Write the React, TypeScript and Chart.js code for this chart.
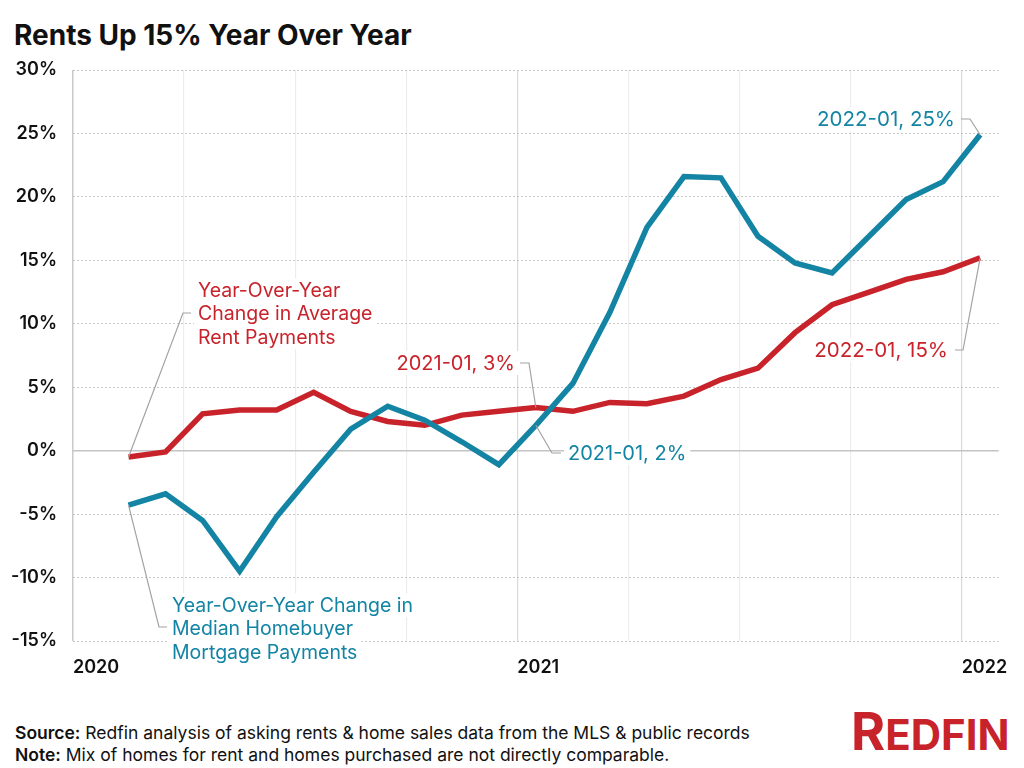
import React, { useEffect, useRef } from 'react';
import { Chart, registerables } from 'chart.js';

Chart.register(...registerables);

// ---------- data ----------
const months = [
  '2020-02', '2020-03', '2020-04', '2020-05', '2020-06', '2020-07', '2020-08', '2020-09',
  '2020-10', '2020-11', '2020-12', '2021-01', '2021-02', '2021-03', '2021-04', '2021-05',
  '2021-06', '2021-07', '2021-08', '2021-09', '2021-10', '2021-11', '2021-12', '2022-01',
];
const rentYoY = [
  -0.5, -0.1, 2.9, 3.2, 3.2, 4.6, 3.1, 2.3,
  2.0, 2.8, 3.1, 3.4, 3.1, 3.8, 3.7, 4.3,
  5.6, 6.5, 9.3, 11.5, 12.5, 13.5, 14.1, 15.2,
];
const mortgageYoY = [
  -4.3, -3.4, -5.5, -9.5, -5.2, -1.7, 1.7, 3.5,
  2.4, 0.7, -1.1, 2.0, 5.3, 10.9, 17.6, 21.6,
  21.5, 16.9, 14.8, 14.0, 16.9, 19.8, 21.2, 24.9,
];
const quarterTicks = ['2020-01', '2020-04', '2020-07', '2020-10', '2021-01', '2021-04', '2021-07', '2021-10', '2022-01'];
const yearLabels = ['2020', '2021', '2022'];
const yTicks = [-15, -10, -5, 0, 5, 10, 15, 20, 25, 30];
const rentLabel = ['Year-Over-Year', 'Change in Average', 'Rent Payments'];
const mortgageLabel = ['Year-Over-Year Change in', 'Median Homebuyer', 'Mortgage Payments'];

// ---------- style ----------
const RED = '#c8232b';
const BLUE = '#1384a3';
const FONT = 'Inter, Lato, "Noto Sans", "DejaVu Sans", sans-serif';
const LEADER = '#a3a3a3';

const monthIndex = (m: string) => {
  const [y, mo] = m.split('-').map(Number);
  return (y - 2020) * 12 + (mo - 1);
};
const pointX = (m: string) => monthIndex(m) + 0.5;

type Note = {
  ds: number;
  idx: number;
  lines: string[];
  color: string;
  x: number;
  y: number;
  align: 'left' | 'right';
  size: number;
  lh: number;
  leader: [number, number][];
};

const fmt = (i: number, vals: number[]) => `${months[i]}, ${Math.round(vals[i])}%`;

const notes: Note[] = [
  { ds: 0, idx: 0, lines: rentLabel, color: RED, x: 198, y: 290, align: 'left', size: 19.5, lh: 23.5, leader: [[183, 313], [191, 313]] },
  { ds: 1, idx: 0, lines: mortgageLabel, color: BLUE, x: 172, y: 605, align: 'left', size: 19.5, lh: 23.5, leader: [[159, 627], [167, 627]] },
  { ds: 0, idx: 11, lines: [fmt(11, rentYoY)], color: RED, x: 515, y: 363, align: 'right', size: 20, lh: 24, leader: [[529, 363], [520, 363]] },
  { ds: 1, idx: 11, lines: [fmt(11, mortgageYoY)], color: BLUE, x: 568, y: 453, align: 'left', size: 20, lh: 24, leader: [[552, 453], [561, 453]] },
  { ds: 1, idx: 23, lines: [fmt(23, mortgageYoY)], color: BLUE, x: 955, y: 119, align: 'right', size: 20.5, lh: 24, leader: [[970, 119], [961, 119]] },
  { ds: 0, idx: 23, lines: [fmt(23, rentYoY)], color: RED, x: 948, y: 350, align: 'right', size: 20.5, lh: 24, leader: [[963, 350], [955, 350]] },
];

const annotationPlugin = {
  id: 'annotations',
  beforeDatasetsDraw(chart: any) {
    const ctx = chart.ctx as CanvasRenderingContext2D;
    ctx.save();
    ctx.fillStyle = '#ffffff';
    notes.forEach((n) => {
      ctx.font = `${n.size}px ${FONT}`;
      n.lines.forEach((line, i) => {
        const w = ctx.measureText(line).width;
        const cy = n.y + i * n.lh;
        const left = n.align === 'left' ? n.x : n.x - w;
        ctx.fillRect(left - 4, cy - n.lh / 2, w + 8, n.lh);
      });
    });
    ctx.restore();
  },
  afterDatasetsDraw(chart: any) {
    const ctx = chart.ctx as CanvasRenderingContext2D;
    ctx.save();
    notes.forEach((n) => {
      const pt = chart.getDatasetMeta(n.ds).data[n.idx];
      ctx.strokeStyle = LEADER;
      ctx.lineWidth = 1.2;
      ctx.beginPath();
      ctx.moveTo(pt.x, pt.y);
      n.leader.forEach(([lx, ly]) => ctx.lineTo(lx, ly));
      ctx.stroke();
      ctx.fillStyle = n.color;
      ctx.font = `${n.size}px ${FONT}`;
      ctx.textAlign = n.align;
      ctx.textBaseline = 'middle';
      n.lines.forEach((line, i) => ctx.fillText(line, n.x, n.y + i * n.lh + 1));
    });
    ctx.restore();
  },
};

export default function App() {
  const ref = useRef<HTMLCanvasElement | null>(null);

  useEffect(() => {
    if (!ref.current) return;
    const chart = new Chart(ref.current, {
      type: 'line',
      data: {
        datasets: [
          {
            label: 'Rent',
            data: months.map((m, i) => ({ x: pointX(m), y: rentYoY[i] })),
            borderColor: RED,
            borderWidth: 5.5,
            pointRadius: 0,
            tension: 0,
            borderJoinStyle: 'miter',
            order: 2,
          },
          {
            label: 'Mortgage',
            data: months.map((m, i) => ({ x: pointX(m), y: mortgageYoY[i] })),
            borderColor: BLUE,
            borderWidth: 5.5,
            pointRadius: 0,
            tension: 0,
            borderJoinStyle: 'miter',
            order: 1,
          },
        ],
      },
      options: {
        responsive: false,
        animation: false,
        layout: { padding: { left: 0, right: 21, top: 70, bottom: 0 } },
        plugins: { legend: { display: false }, tooltip: { enabled: false }, title: { display: false } },
        scales: {
          x: {
            type: 'linear',
            min: 0,
            max: 25,
            afterBuildTicks: (scale: any) => {
              scale.ticks = quarterTicks.map((m) => ({ value: monthIndex(m) }));
            },
            afterFit: (scale: any) => {
              scale.height = 40;
            },
            ticks: {
              align: 'start',
              padding: 16,
              maxRotation: 0,
              autoSkip: false,
              color: '#111111',
              font: { family: FONT, size: 18, weight: '600' },
              callback: (v: any) => (Number(v) % 12 === 0 ? yearLabels[Number(v) / 12] : ''),
            },
            grid: {
              drawTicks: false,
              color: (c: any) => {
                const v = c.tick ? c.tick.value : -1;
                if (v === 0) return '#c9c9c9';
                if (v % 12 === 0) return '#d9d9d9';
                return '#ededed';
              },
              lineWidth: (c: any) => (c.tick && c.tick.value === 0 ? 1.5 : 1.2),
            },
            border: { display: false },
          },
          y: {
            min: -15,
            max: 30,
            afterBuildTicks: (scale: any) => {
              scale.ticks = yTicks.map((v) => ({ value: v }));
            },
            afterFit: (scale: any) => {
              scale.width = 73;
            },
            ticks: {
              padding: 16,
              color: '#111111',
              font: { family: FONT, size: 18, weight: '600' },
              callback: (v: any) => `${v}%`,
            },
            grid: {
              drawTicks: false,
              color: (c: any) => (c.tick && c.tick.value === 0 ? '#c4c4c4' : '#c6c6c6'),
              lineWidth: (c: any) => (c.tick && c.tick.value === 0 ? 1.6 : 1),
            },
            border: {
              display: false,
              dash: (c: any) => (c.tick && c.tick.value === 0 ? [] : [2, 2]),
            },
          },
        },
      } as any,
      plugins: [annotationPlugin],
    });
    return () => chart.destroy();
  }, []);

  return (
    <div
      style={{
        position: 'fixed',
        left: 0,
        top: 0,
        width: 1024,
        height: 768,
        background: '#ffffff',
        fontFamily: FONT,
        overflow: 'hidden',
      }}
    >
      <div
        style={{
          position: 'absolute',
          left: 14,
          top: 21,
          fontSize: 28,
          lineHeight: '28px',
          fontWeight: 700,
          color: '#111111',
          whiteSpace: 'nowrap',
        }}
      >
        Rents Up 15% Year Over Year
      </div>
      <canvas
        ref={ref}
        width={1024}
        height={681}
        style={{ position: 'absolute', left: 0, top: 0, width: 1024, height: 681 }}
      />
      <div
        style={{
          position: 'absolute',
          left: 15,
          top: 722,
          fontSize: 17.5,
          lineHeight: '22px',
          color: '#111111',
          whiteSpace: 'nowrap',
        }}
      >
        <div>
          <b style={{ fontWeight: 600 }}>Source:</b> Redfin analysis of asking rents &amp; home sales data from the MLS &amp; public records
        </div>
        <div>
          <b style={{ fontWeight: 600 }}>Note:</b> Mix of homes for rent and homes purchased are not directly comparable.
        </div>
      </div>
      <div
        style={{
          position: 'absolute',
          left: 851,
          top: 706,
          fontSize: 52,
          lineHeight: '52px',
          fontWeight: 700,
          color: RED,
          whiteSpace: 'nowrap',
          letterSpacing: 0,
        }}
      >
        R<span style={{ fontSize: 42 }}>EDFIN</span>
      </div>
    </div>
  );
}
